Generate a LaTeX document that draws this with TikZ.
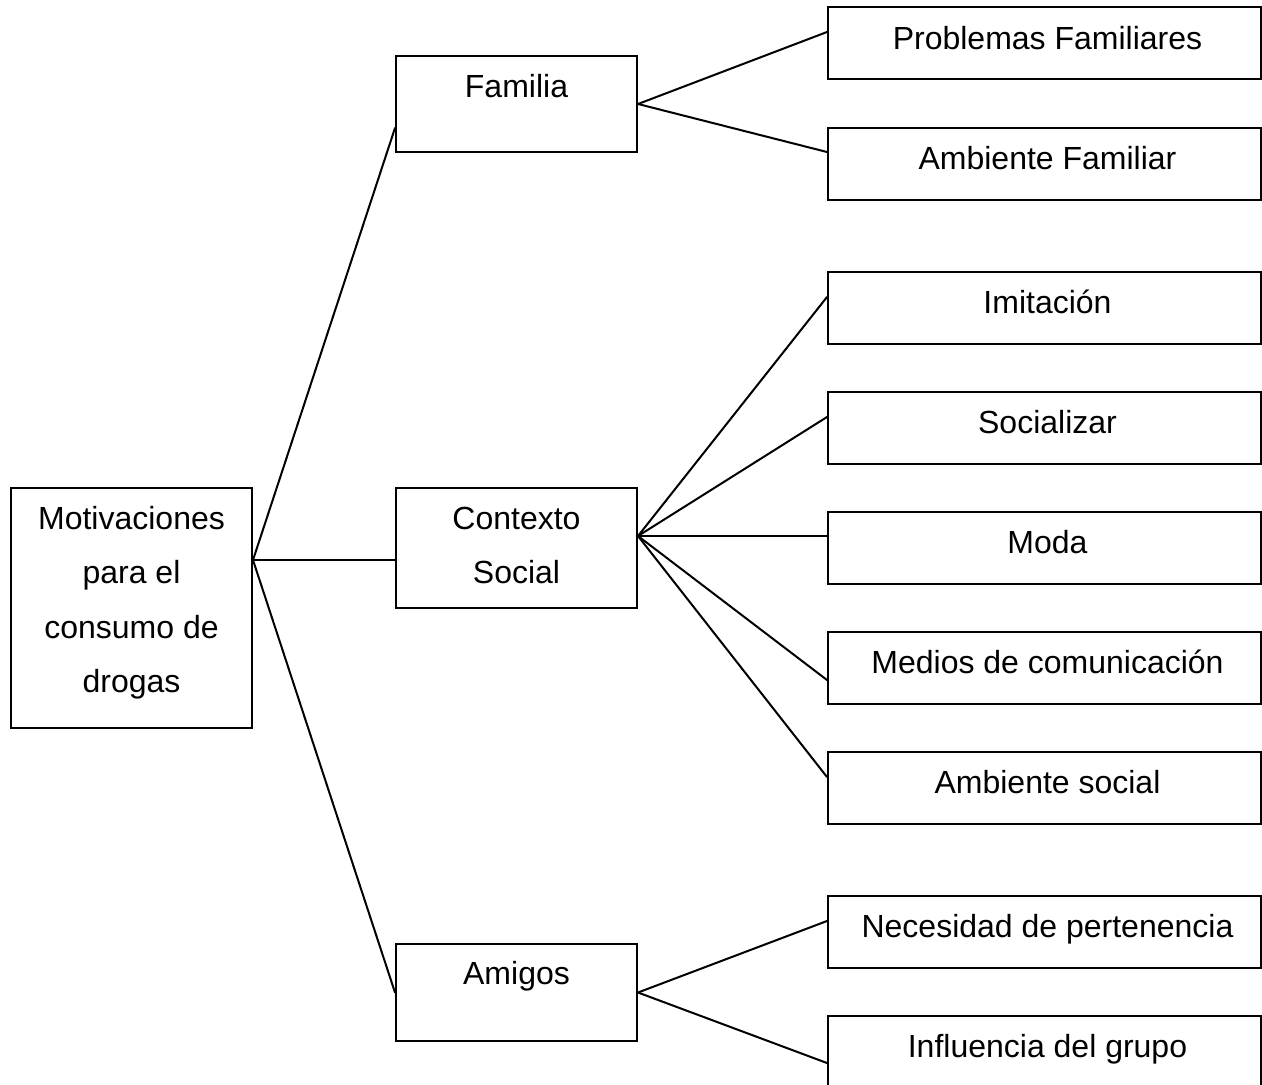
\documentclass[tikz,border=0pt]{standalone}
\usepackage{fontspec}
\setmainfont{Liberation Sans}
\begin{document}
\begin{tikzpicture}[x=1pt,y=-1pt,
  box/.style={draw, line width=2pt, inner sep=0pt, rectangle},
  txt/.style={inner sep=0pt, font=\fontsize{32}{54.5}\selectfont},
  conn/.style={line width=2pt, line cap=round}]
\useasboundingbox[fill=white] (0,0) rectangle (1262,1085);
% left and middle boxes
\node[box, minimum width=241pt, minimum height=240pt] (root) at (131.5,608) {};
\node[box, minimum width=241pt, minimum height=96pt]  (fam)  at (516.5,104) {};
\node[box, minimum width=241pt, minimum height=120pt] (ctx)  at (516.5,548) {};
\node[box, minimum width=241pt, minimum height=97pt]  (ami)  at (516.5,992.5) {};
% right boxes
\node[box, minimum width=433pt, minimum height=72pt] (p1) at (1044.5,43) {};
\node[box, minimum width=433pt, minimum height=72pt] (p2) at (1044.5,164) {};
\node[box, minimum width=433pt, minimum height=72pt] (s1) at (1044.5,308) {};
\node[box, minimum width=433pt, minimum height=72pt] (s2) at (1044.5,428) {};
\node[box, minimum width=433pt, minimum height=72pt] (s3) at (1044.5,548) {};
\node[box, minimum width=433pt, minimum height=72pt] (s4) at (1044.5,668) {};
\node[box, minimum width=433pt, minimum height=72pt] (s5) at (1044.5,788) {};
\node[box, minimum width=433pt, minimum height=72pt] (a1) at (1044.5,932) {};
\node[box, minimum width=433pt, minimum height=72pt] (a2) at (1044.5,1052) {};
% texts
\node[txt, anchor=north, align=center] (troot) at ([yshift=-18pt]root.north)
  {\rule{0pt}{24pt}Motivaciones\\para el\\consumo de\\drogas};
\node[txt, anchor=north, align=center] (tctx) at ([yshift=-18pt]ctx.north)
  {\rule{0pt}{24pt}Contexto\\Social};
\node[txt, anchor=base] (tfam) at ([yshift=-42pt]fam.north) {Familia};
\node[txt, anchor=base] (tami) at ([yshift=-41pt]ami.north) {Amigos};
\node[txt, anchor=base] (tp1) at ([xshift=3pt,yshift=-43pt]p1.north) {Problemas Familiares};
\node[txt, anchor=base] (tp2) at ([xshift=3pt,yshift=-42pt]p2.north) {Ambiente Familiar};
\node[txt, anchor=base] (ts1) at ([xshift=3pt,yshift=-42pt]s1.north) {Imitación};
\node[txt, anchor=base] (ts2) at ([xshift=3pt,yshift=-42pt]s2.north) {Socializar};
\node[txt, anchor=base] (ts3) at ([xshift=3pt,yshift=-42pt]s3.north) {Moda};
\node[txt, anchor=base] (ts4) at ([xshift=3pt,yshift=-42pt]s4.north) {Medios de comunicación};
\node[txt, anchor=base] (ts5) at ([xshift=3pt,yshift=-42pt]s5.north) {Ambiente social};
\node[txt, anchor=base] (ta1) at ([xshift=3pt,yshift=-42pt]a1.north) {Necesidad de pertenencia};
\node[txt, anchor=base] (ta2) at ([xshift=3pt,yshift=-42pt]a2.north) {Influencia del grupo};
% connectors
\draw[conn] ([yshift=48pt]root.east) -- ([yshift=-24pt]fam.west);
\draw[conn] ([yshift=48pt]root.east) -- ([yshift=-12pt]ctx.west);
\draw[conn] ([yshift=48pt]root.east) -- (ami.west);
\draw[conn] (fam.east) -- ([yshift=11pt]p1.west);
\draw[conn] (fam.east) -- ([yshift=12pt]p2.west);
\draw[conn] ([yshift=12pt]ctx.east) -- ([yshift=11pt]s1.west);
\draw[conn] ([yshift=12pt]ctx.east) -- ([yshift=11pt]s2.west);
\draw[conn] ([yshift=12pt]ctx.east) -- ([yshift=12pt]s3.west);
\draw[conn] ([yshift=12pt]ctx.east) -- ([yshift=-12pt]s4.west);
\draw[conn] ([yshift=12pt]ctx.east) -- ([yshift=11pt]s5.west);
\draw[conn] (ami.east) -- ([yshift=11pt]a1.west);
\draw[conn] (ami.east) -- ([yshift=-11pt]a2.west);
\end{tikzpicture}
\end{document}
